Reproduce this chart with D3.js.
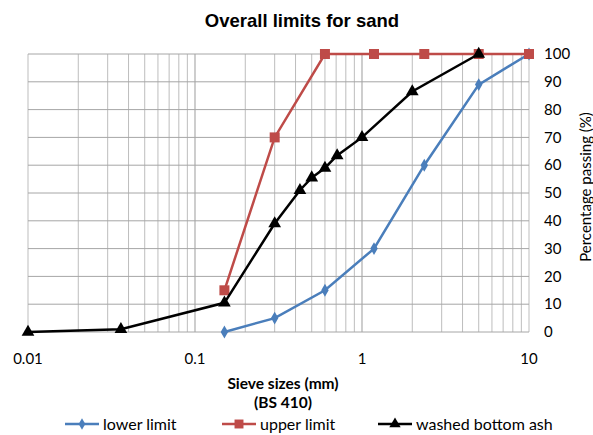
<!DOCTYPE html>
<html>
<head>
<meta charset="utf-8">
<script src="https://cdn.jsdelivr.net/npm/d3@7"></script>
<style>
  body { margin: 0; background: #fff; }
  text { font-family: Lato, "Open Sans", sans-serif; fill: #000; }
</style>
</head>
<body>
<svg id="chart" width="593" height="435"></svg>
<script>
// sieve sizes (mm) and percent passing
const limitSizes = [0.15, 0.3, 0.6, 1.18, 2.36, 5, 10];
const lowerLimit = [0, 5, 15, 30, 60, 89, 100];
const upperLimit = [15, 70, 100, 100, 100, 100, 100];
const ashSizes = [0.01, 0.036, 0.15, 0.3, 0.425, 0.5, 0.6, 0.71, 1, 2, 5];
const ashPassing = [0, 1, 10.5, 39, 51, 55.5, 59, 63.5, 70, 86.5, 100];
const xTicks = [0.01, 0.1, 1, 10];
const yTicks = [0, 10, 20, 30, 40, 50, 60, 70, 80, 90, 100];

const svg = d3.select("#chart");
const x = d3.scaleLog().domain([0.01, 10]).range([28, 529]);
const y = d3.scaleLinear().domain([0, 100]).range([332, 54]);

// grid
const minor = [];
[0.01, 0.1, 1].forEach(d => { for (let i = 1; i <= 10; i++) minor.push(d * i); });
svg.append("g").selectAll("line").data(minor).join("line")
  .attr("x1", d => x(d)).attr("x2", d => x(d))
  .attr("y1", y(0)).attr("y2", y(100))
  .attr("stroke", "#bdbdbd").attr("stroke-width", 1);
svg.append("g").selectAll("line").data(yTicks).join("line")
  .attr("x1", x(0.01)).attr("x2", x(10))
  .attr("y1", d => y(d)).attr("y2", d => y(d))
  .attr("stroke", "#a6a6a6").attr("stroke-width", 1);

// x labels
svg.append("g").selectAll("text").data(xTicks).join("text")
  .attr("x", d => x(d)).attr("y", 364)
  .attr("text-anchor", "middle").attr("font-size", 15)
  .text(d => d);

// y labels (right side)
svg.append("g").selectAll("text").data(yTicks).join("text")
  .attr("x", 544).attr("y", d => y(d)).attr("dy", "0.35em")
  .attr("font-size", 15)
  .text(d => d);

// titles
svg.append("text").attr("x", 302).attr("y", 27).attr("text-anchor", "middle")
  .style("font-family", "'Liberation Sans', Arial, sans-serif")
  .attr("font-weight", "bold").attr("font-size", 18.5)
  .text("Overall limits for sand");
svg.append("text").attr("x", 283).attr("y", 389).attr("text-anchor", "middle")
  .attr("font-weight", "bold").attr("font-size", 15.5).text("Sieve sizes (mm)");
svg.append("text").attr("x", 283).attr("y", 408).attr("text-anchor", "middle")
  .attr("font-weight", "bold").attr("font-size", 15.5).text("(BS 410)");
svg.append("text").attr("transform", "translate(591,187) rotate(-90)")
  .attr("text-anchor", "middle").attr("font-size", 15)
  .text("Percentage passing (%)");

const series = [
  { name: "lower limit", color: "#4a7ebb", sym: d3.symbolDiamond, size: 48,
    pts: limitSizes.map((s, i) => [s, lowerLimit[i]]) },
  { name: "upper limit", color: "#be4b48", sym: d3.symbolSquare, size: 100,
    pts: limitSizes.map((s, i) => [s, upperLimit[i]]) },
  { name: "washed bottom ash", color: "#000", sym: d3.symbolTriangle, size: 70,
    pts: ashSizes.map((s, i) => [s, ashPassing[i]]) }
];

const line = d3.line().x(d => x(d[0])).y(d => y(d[1]));
series.forEach(s => {
  svg.append("path").datum(s.pts).attr("d", line)
    .attr("fill", "none").attr("stroke", s.color).attr("stroke-width", 2.5);
  svg.append("g").selectAll("path").data(s.pts).join("path")
    .attr("transform", d => `translate(${x(d[0])},${y(d[1])})`)
    .attr("d", d3.symbol(s.sym, s.size)).attr("fill", s.color);
});

// legend
const legX = [65, 222, 378];
const lg = svg.append("g").selectAll("g").data(series).join("g")
  .attr("transform", (d, i) => `translate(${legX[i]},424)`);
lg.append("line").attr("x1", 0).attr("x2", 34)
  .attr("stroke", d => d.color).attr("stroke-width", 2.5);
lg.append("path").attr("transform", "translate(17,0)")
  .attr("d", d => d3.symbol(d.sym, d.size * 0.8)()).attr("fill", d => d.color);
lg.append("text").attr("x", 38).attr("dy", "0.35em").attr("font-size", 16)
  .attr("fill", "#222").text(d => d.name);
</script>
</body>
</html>
